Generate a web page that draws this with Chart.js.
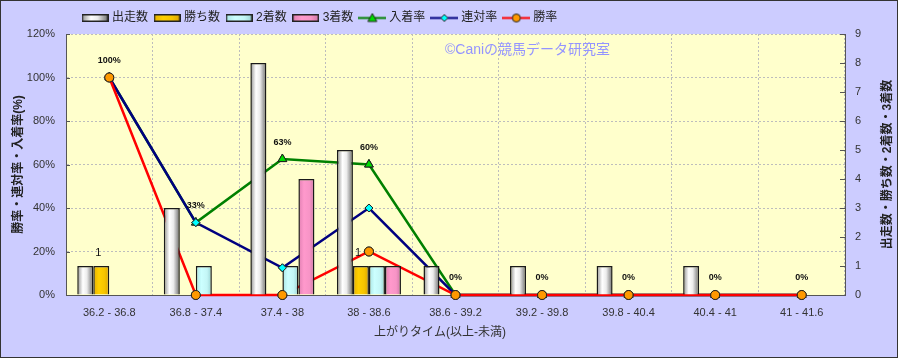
<!DOCTYPE html>
<html><head><meta charset="utf-8">
<script src="https://cdn.jsdelivr.net/npm/chart.js@4/dist/chart.umd.min.js"></script>
<style>html,body{margin:0;padding:0;background:#CCCCFF;}canvas{display:block;}</style>
</head><body>
<canvas id="c" width="898" height="358"></canvas>
<script>
const categories = ['36.2 - 36.8','36.8 - 37.4','37.4 - 38','38 - 38.6','38.6 - 39.2','39.2 - 39.8','39.8 - 40.4','40.4 - 41','41 - 41.6'];
const runners = [1,3,8,5,1,1,1,1,0];
const wins = [1,0,0,1,0,0,0,0,0];
const seconds = [0,1,1,1,0,0,0,0,0];
const thirds = [0,0,4,1,0,0,0,0,0];
const placeRate = [100,33.3,62.5,60,0,0,0,0,0];
const quinellaRate = [100,33.3,12.5,40,0,0,0,0,0];
const winRate = [100,0,0,20,0,0,0,0,0];
const leftTickMax = 120, leftTickStep = 20;
const rightTickMax = 9, rightTickStep = 1;
const seriesNames = ['出走数','勝ち数','2着数','3着数','入着率','連対率','勝率'];
const leftTitle = '勝率・連対率・入着率(%)';
const rightTitle = '出走数・勝ち数・2着数・3着数';
const xTitle = '上がりタイム(以上-未満)';
const watermark = '©Caniの競馬データ研究室';

const FONT = "'Liberation Sans','Noto Sans CJK JP',sans-serif";
Chart.defaults.font.family = FONT;
Chart.defaults.color = '#333';

const barStops = [
  [[0,'#8e8e8e'],[0.35,'#ffffff'],[0.6,'#ececec'],[1,'#6a6a6a']],
  [[0,'#e6b000'],[0.35,'#ffd000'],[0.7,'#f5c400'],[1,'#d9a200']],
  [[0,'#a8e4e4'],[0.35,'#ccffff'],[0.7,'#c4f6f6'],[1,'#98d2d2']],
  [[0,'#e07fb2'],[0.35,'#ff99cc'],[0.7,'#f794c6'],[1,'#cc74a4']]
];
const barFlat = ['#dddddd','#ffcc00','#ccffff','#ff99cc'];
function grad(ctx, x0, x1, stops){
  const g = ctx.createLinearGradient(x0,0,x1,0);
  stops.forEach(s=>g.addColorStop(s[0],s[1]));
  return g;
}
function barIcon(i){
  const cv = document.createElement('canvas'); cv.width=27; cv.height=8;
  const g = cv.getContext('2d');
  g.fillStyle = grad(g,0,27,barStops[i]); g.fillRect(0,0,27,8);
  g.strokeStyle='#222'; g.lineWidth=1.5; g.strokeRect(0.75,0.75,25.5,6.5);
  return cv;
}
function lineIcon(color, fill, shape){
  const cv = document.createElement('canvas'); cv.width=28; cv.height=11;
  const g = cv.getContext('2d');
  g.strokeStyle=color; g.lineWidth=2; g.beginPath(); g.moveTo(0,5.5); g.lineTo(28,5.5); g.stroke();
  g.fillStyle=fill; g.strokeStyle='#222'; g.lineWidth=1; g.beginPath();
  if(shape==='tri'){ g.moveTo(14,1); g.lineTo(18.5,9); g.lineTo(9.5,9); g.closePath(); }
  else if(shape==='dia'){ g.moveTo(14,2); g.lineTo(17.5,5.5); g.lineTo(14,9); g.lineTo(10.5,5.5); g.closePath(); }
  else { g.arc(14,5.5,4,0,Math.PI*2); }
  g.fill(); g.stroke();
  return cv;
}
const legendIcons = [barIcon(0),barIcon(1),barIcon(2),barIcon(3),
  lineIcon('#008000','#00dd00','tri'), lineIcon('#000080','#00ffff','dia'), lineIcon('#ff0000','#ff9900','circ')];

function barDataset(i, data){
  return {type:'bar', label:seriesNames[i], data, yAxisID:'y1', order:0,
    backgroundColor: (c)=>barFlat[i], borderColor:'#1a1a1a', borderWidth:1.5,
    categoryPercentage:0.74, barPercentage:1.0, _grad:i};
}
function lineDataset(i, data, color, fill, style, radius, order){
  return {type:'line', label:seriesNames[i], data, yAxisID:'y', order,
    borderColor:color, borderWidth:2.5, tension:0, clip:false,
    pointStyle:style, pointRadius:radius, pointBackgroundColor:fill,
    pointBorderColor:'#222', pointBorderWidth:1};
}

const plug = {
  id:'custom',
  beforeDraw(chart){
    const {ctx, chartArea:a} = chart;
    ctx.save();
    ctx.fillStyle='#CCCCFF'; ctx.fillRect(0,0,chart.width,chart.height);
    ctx.fillStyle='#FFFFCC'; ctx.fillRect(a.left,a.top,a.right-a.left,a.bottom-a.top);
    ctx.restore();
  },
  beforeDatasetsDraw(chart){
    const {ctx, chartArea:a} = chart;
    ctx.save();
    ctx.fillStyle='#9494ff'; ctx.font="14px "+FONT; ctx.textAlign='left'; ctx.textBaseline='middle';
    ctx.fillText(watermark, 445, 50);
    ctx.restore();
    chart.data.datasets.forEach((ds,di)=>{
      if(ds._grad===undefined) return;
      const meta = chart.getDatasetMeta(di);
      meta.data.forEach(el=>{
        if(!el.options || Object.isFrozen(el.options)) return;
        el.options.backgroundColor = grad(ctx, el.x-el.width/2, el.x+el.width/2, barStops[ds._grad]);
      });
    });
  },
  afterDatasetsDraw(chart){
    const {ctx, chartArea:a} = chart;
    [4,5,6].forEach(di=>{
      chart.getDatasetMeta(di).data.forEach(p=>p.draw(ctx, {left:0,top:0,right:chart.width,bottom:chart.height}));
    });
    ctx.save();
    ctx.fillStyle='#111'; ctx.textAlign='center'; ctx.textBaseline='middle';
    ctx.font="bold 9px "+FONT;
    chart.getDatasetMeta(4).data.forEach((p,i)=>{
      ctx.fillText(Math.round(placeRate[i])+'%', p.x, p.y-17);
    });
    ctx.font="11px "+FONT;
    chart.getDatasetMeta(1).data.forEach((b,i)=>{
      if(wins[i]>0) ctx.fillText(String(wins[i]), b.x-3, b.y-13);
    });
    ctx.restore();
  },
  afterDraw(chart){
    const {ctx, chartArea:a} = chart;
    ctx.save();
    ctx.strokeStyle='#555'; ctx.lineWidth=1;
    const yl = chart.scales.y, yr = chart.scales.y1;
    yl.ticks.forEach(t=>{ const y=Math.round(yl.getPixelForValue(t.value))+0.5; ctx.beginPath(); ctx.moveTo(a.left,y); ctx.lineTo(a.left+4,y); ctx.stroke(); });
    yr.ticks.forEach(t=>{ const y=Math.round(yr.getPixelForValue(t.value))+0.5; ctx.beginPath(); ctx.moveTo(a.right-5,y); ctx.lineTo(a.right,y); ctx.stroke(); });
    ctx.fillStyle='#222'; ctx.font="bold 12px "+FONT; ctx.textAlign='center'; ctx.textBaseline='middle';
    ctx.translate(888,(a.top+a.bottom)/2); ctx.rotate(-Math.PI/2); ctx.fillText(rightTitle,0,0);
    ctx.restore();
    ctx.save();
    ctx.fillStyle='#333'; ctx.font="12px "+FONT; ctx.textAlign='center'; ctx.textBaseline='middle';
    ctx.fillText(xTitle, 440, 333);
    ctx.strokeStyle='#333'; ctx.lineWidth=1; ctx.strokeRect(0.5,0.5,chart.width-1,chart.height-1);
    ctx.restore();
  },
  afterLayout(chart){
    const lg = chart.legend; if(lg){ lg.left += 70; lg.right += 70; }
  }
};

new Chart(document.getElementById('c'), {
  data:{
    labels: categories,
    datasets:[
      barDataset(0, runners), barDataset(1, wins), barDataset(2, seconds), barDataset(3, thirds),
      lineDataset(4, placeRate, '#008000', '#00dd00', 'triangle', 5, 3),
      lineDataset(5, quinellaRate, '#000080', '#00ffff', 'rectRot', 4, 2),
      lineDataset(6, winRate, '#ff0000', '#ff9900', 'circle', 4.5, 1)
    ]
  },
  options:{
    responsive:false, animation:false, devicePixelRatio:1,
    layout:{padding:{left:6, right:0, top:4, bottom:0}},
    plugins:{
      tooltip:{enabled:false},
      legend:{position:'top', align:'start',
        labels:{usePointStyle:true, pointStyleWidth:22, padding:8, color:'#222', font:{size:12},
          sort:(a,b)=>a.datasetIndex-b.datasetIndex,
          generateLabels:(chart)=>{
            const items = Chart.defaults.plugins.legend.labels.generateLabels(chart);
            items.forEach(it=>{ it.pointStyle = legendIcons[it.datasetIndex]; it.rotation=0; });
            return items;
          }}}
    },
    scales:{
      x:{type:'category', offset:true,
        grid:{offset:true, color:'#bdbdbd', drawTicks:false},
        border:{color:'#555', width:1, dash:[2,2]},
        ticks:{padding:11, color:'#333', font:{size:11}, maxRotation:0, autoSkip:false},
        afterFit:(s)=>{ s.height = 63; }
      },
      y:{position:'left', min:0, max:leftTickMax,
        ticks:{stepSize:leftTickStep, callback:(v)=>v+'%', padding:11, color:'#333', font:{size:11}},
        grid:{color:'#bdbdbd', drawTicks:false},
        border:{color:'#555', width:1, dash:[2,2]},
        title:{display:true, text:leftTitle, color:'#222', font:{size:12, weight:'bold'}, padding:{top:5,bottom:0}},
        afterFit:(s)=>{ s.width = 60; }
      },
      y1:{position:'right', min:0, max:rightTickMax,
        ticks:{stepSize:rightTickStep, padding:10, color:'#333', font:{size:11}},
        grid:{drawOnChartArea:false, drawTicks:false},
        border:{color:'#555', width:1},
        afterFit:(s)=>{ s.width = 53; }
      }
    }
  },
  plugins:[plug]
});
</script>
</body></html>
